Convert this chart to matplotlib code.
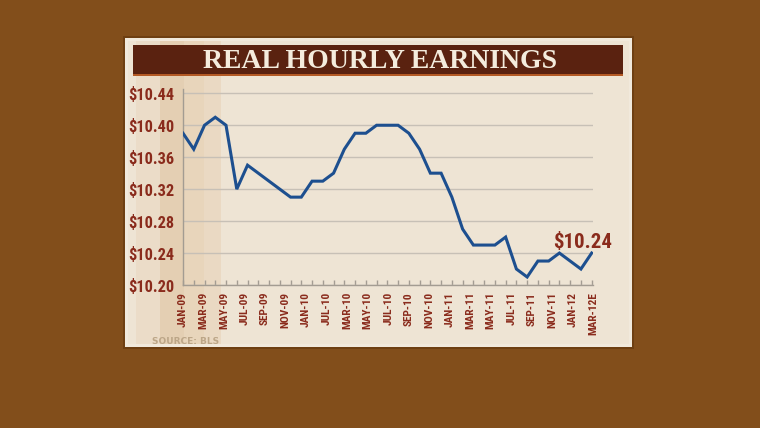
import numpy as np
import matplotlib.pyplot as plt
from matplotlib.patches import Rectangle

# monthly real hourly earnings, Jan 2009 .. Mar 2012 (estimate)
earnings = [10.39, 10.37, 10.40, 10.41, 10.40, 10.32, 10.35, 10.34, 10.33, 10.32,
            10.31, 10.31, 10.33, 10.33, 10.34, 10.37, 10.39, 10.39, 10.40, 10.40,
            10.40, 10.39, 10.37, 10.34, 10.34, 10.31, 10.27, 10.25, 10.25, 10.25,
            10.26, 10.22, 10.21, 10.23, 10.23, 10.24, 10.23, 10.22, 10.24]
month_labels = ["JAN-09", "MAR-09", "MAY-09", "JUL-09", "SEP-09", "NOV-09",
                "JAN-10", "JUL-10", "MAR-10", "MAY-10", "JUL-10", "SEP-10", "NOV-10",
                "JAN-11", "MAR-11", "MAY-11", "JUL-11", "SEP-11", "NOV-11",
                "JAN-12", "MAR-12E"]
y_ticks = [10.20, 10.24, 10.28, 10.32, 10.36, 10.40, 10.44]
callout = "$10.24"

W, H = 760, 428
label_kw = {"color": "#8a2b1c", "fontweight": "bold",
            "family": ["Roboto Condensed", "Roboto", "DejaVu Sans"]}


def px_rect(fig, x0, y0, x1, y1, **kw):
    """Rectangle given in pixel coords (origin top-left), drawn behind the axes."""
    fig.patches.append(Rectangle((x0 / W, 1 - y1 / H), (x1 - x0) / W, (y1 - y0) / H,
                                 transform=fig.transFigure, figure=fig, zorder=-10, **kw))


fig = plt.figure(figsize=(W / 100, H / 100), dpi=100)
fig.patch.set_facecolor("#824e1b")

# card
px_rect(fig, 123, 36, 634, 349, facecolor="#6e3f12", lw=0)
px_rect(fig, 125, 38, 632, 347, facecolor="#f1e9dc", lw=0)
px_rect(fig, 128, 41, 629, 344, facecolor="#eee4d4", lw=0)
# shaded stripes on the left
for x0, x1, c in [(136, 160, "#ebdcc8"), (160, 184, "#e4cfb3"),
                  (184, 204, "#e8d5bb"), (204, 221, "#ead9c3")]:
    px_rect(fig, x0, 41, x1, 344, facecolor=c, lw=0)
# title banner
px_rect(fig, 133, 45, 623, 76, facecolor="#b45a25", lw=0)
px_rect(fig, 133, 45, 623, 74, facecolor="#5a2210", lw=0)
fig.text(380 / W, 1 - 61.5 / H, "REAL HOURLY EARNINGS", ha="center", va="center",
         color="#f4ecdd", fontsize=20, fontweight="bold", family="Liberation Serif")

# plot area
ax_top = 93.3 - 0.005 * 800
ax = fig.add_axes([183 / W, 1 - 285 / H, (593.4 - 183) / W, (285 - ax_top) / H])
ax.patch.set_alpha(0)

x = np.arange(len(earnings))
ax.plot(x, earnings, color="#1d4f8f", lw=2.2, solid_joinstyle="miter", zorder=3)
ax.annotate(callout, (x[-1], earnings[-1]), xytext=(-6.5, 1.0), textcoords="offset points",
            ha="center", va="bottom", fontsize=15, **label_kw)

ax.set_xlim(0, len(earnings) - 1)
ax.set_ylim(10.20, 10.445)
ax.set_yticks(y_ticks)
ax.set_yticklabels([f"${v:.2f}" for v in y_ticks])
ax.grid(axis="y", color="#c7c0b6", lw=1.0)
ax.set_axisbelow(True)

# monthly tick marks, labels spread evenly along the axis
ax.xaxis.remove_overlapping_locs = False
ax.set_xticks(x)
ax.set_xticklabels([])
lab_pos = np.arange(len(month_labels)) * 1.908
ax.set_xticks(lab_pos, minor=True)
ax.set_xticklabels(month_labels, minor=True, rotation=90, fontsize=8.2, **label_kw)
ax.tick_params(axis="x", which="major", direction="in", length=3.5, color="#a39c92", width=1)
ax.tick_params(axis="x", which="minor", length=0, pad=5)
ax.tick_params(axis="y", length=0, pad=6, labelsize=11.8)
for lab in ax.get_yticklabels():
    lab.set(**label_kw)

for side in ["top", "right"]:
    ax.spines[side].set_visible(False)
for side in ["left", "bottom"]:
    ax.spines[side].set_color("#a39c92")
    ax.spines[side].set_linewidth(1.0)

fig.text(152 / W, 1 - 342 / H, "SOURCE: BLS", ha="left", va="center",
         color="#bca688", fontsize=6.5, fontweight="bold")

plt.savefig("out.png", dpi=100)
